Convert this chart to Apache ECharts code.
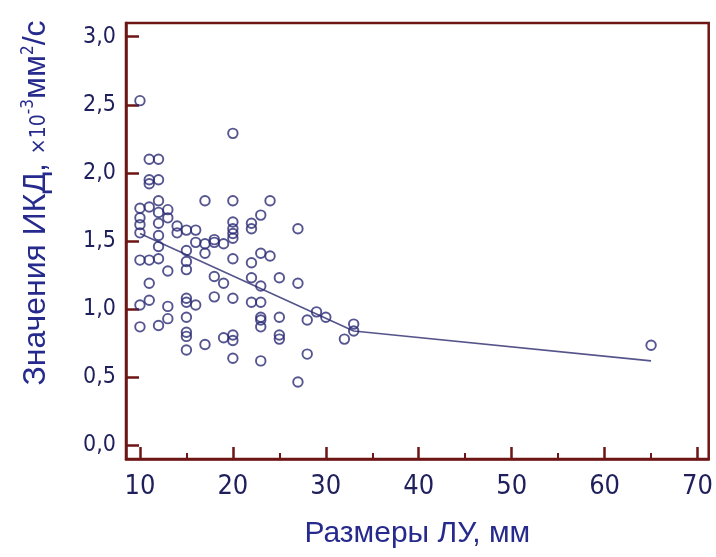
<!DOCTYPE html>
<html>
<head>
<meta charset="utf-8">
<script src="https://cdn.jsdelivr.net/npm/echarts@6/dist/echarts.min.js"></script>
<style>html,body{margin:0;padding:0;background:#fff;}#c{width:716px;height:557px;}</style>
</head>
<body>
<div id="c"></div>
<script>
// Sizes of lymph nodes (mm) and matching IKD values (x10^-3 mm^2/s)
const sizes = [
  10,10,10,10,10,10,10,10,
  11,11,11,11,11,11,11,
  12,12,12,12,12,12,12,12,12,
  13,13,13,13,13,
  14,14,
  15,15,15,15,15,15,15,15,15,15,
  16,16,16,
  17,17,17,17,
  18,18,18,18,
  19,19,19,
  20,20,20,20,20,20,20,20,20,20,20,
  22,22,22,22,22,
  23,23,23,23,23,23,23,23,
  24,24,
  25,25,25,25,
  27,27,27,
  28,28,
  29,
  30,
  32,
  33,33,
  65
];
const ikd = [
  2.53,1.74,1.67,1.62,1.56,1.36,1.03,0.87,
  2.10,1.95,1.92,1.75,1.36,1.19,1.065,
  2.10,1.95,1.795,1.71,1.63,1.54,1.46,1.37,0.88,
  1.73,1.67,1.28,1.02,0.93,
  1.61,1.56,
  1.58,1.43,1.35,1.29,1.08,1.05,0.94,0.83,0.80,0.70,
  1.58,1.49,1.03,
  1.795,1.48,1.41,0.74,
  1.51,1.49,1.24,1.09,
  1.48,1.19,0.79,
  2.29,1.795,1.64,1.59,1.555,1.52,1.37,1.08,0.81,0.77,0.64,
  1.63,1.59,1.34,1.23,1.05,
  1.69,1.41,1.17,1.05,0.94,0.92,0.87,0.62,
  1.795,1.39,
  1.23,0.94,0.81,0.78,
  1.59,1.19,0.465,
  0.92,0.67,
  0.98,
  0.94,
  0.78,
  0.89,0.84,
  0.735
];
// Fitted trend line vertices
const fitX = [10, 33, 65];
const fitY = [1.555, 0.84, 0.62];

// Axis ticks and labels
const xTicks = [10, 20, 30, 40, 50, 60, 70];
const xTickLabels = ['10', '20', '30', '40', '50', '60', '70'];
const xMinorTicks = [15, 25, 35, 45, 55, 65];
const yTicks = [0, 0.5, 1.0, 1.5, 2.0, 2.5, 3.0];
const yTickLabels = ['0,0', '0,5', '1,0', '1,5', '2,0', '2,5', '3,0'];

const xTitle = 'Размеры ЛУ, мм';

const axisRed = '#6e1515';
const labelNavy = '#1f1f5c';
const titleBlue = '#262a8c';
const markNavy = '#2b2b74';
const narrow = '"DejaVu Sans Condensed", "Liberation Sans Narrow", sans-serif';
const sans = '"Liberation Sans", Arial, sans-serif';

const scatterData = sizes.map((s, i) => [s, ikd[i]]);
const fitData = fitX.map((x, i) => [x, fitY[i]]);

const X_MIN = 8.5, X_MAX = 71.2, Y_MIN = -0.1, Y_MAX = 3.1;

function tickAxis(min, max, values, len, width, pos) {
  return {
    type: 'value', min: min, max: max, offset: 0, position: pos,
    axisLine: {show: false, onZero: false},
    axisTick: {show: true, inside: true, length: len, customValues: values, lineStyle: {color: axisRed, width: width}},
    axisLabel: {show: false},
    splitLine: {show: false}
  };
}

const chart = echarts.init(document.getElementById('c'), null, {renderer: 'canvas'});
chart.setOption({
  animation: false,
  backgroundColor: '#ffffff',
  grid: {
    left: 126, right: 3, top: 23, bottom: 98,
    show: true, borderColor: axisRed, borderWidth: 2.5, backgroundColor: 'transparent'
  },
  xAxis: [{
    type: 'value', min: X_MIN, max: X_MAX, position: 'bottom',
    name: xTitle, nameLocation: 'middle', nameGap: 60,
    nameTextStyle: {color: titleBlue, fontSize: 30, fontFamily: sans},
    axisLine: {show: true, onZero: false, lineStyle: {color: axisRed, width: 2.5}},
    axisTick: {show: false},
    axisLabel: {
      show: true, customValues: xTicks, margin: 14,
      color: labelNavy, fontSize: 27, fontFamily: narrow,
      formatter: v => xTickLabels[xTicks.indexOf(Math.round(v))]
    },
    splitLine: {show: false}
  },
  tickAxis(X_MIN, X_MAX, xTicks, 12, 2.5, 'bottom'),
  tickAxis(X_MIN, X_MAX, xMinorTicks, 6, 2, 'bottom')
  ],
  yAxis: [{
    type: 'value', min: Y_MIN, max: Y_MAX, position: 'left',
    axisLine: {show: true, onZero: false, lineStyle: {color: axisRed, width: 2.5}},
    axisTick: {show: false},
    axisLabel: {
      show: true, customValues: yTicks, margin: 10,
      color: labelNavy, fontSize: 23, fontFamily: narrow,
      formatter: v => yTickLabels[yTicks.indexOf(Math.round(v * 10) / 10)]
    },
    splitLine: {show: false}
  },
  tickAxis(Y_MIN, Y_MAX, yTicks, 13, 2.5, 'left')
  ],
  graphic: [{
    type: 'text',
    x: 36, y: 203,
    rotation: Math.PI / 2,
    style: {
      text: '{a|Значения ИКД, }{b|×10}{s|-3}{a|мм}{s|2}{a|/с}',
      align: 'center', verticalAlign: 'middle',
      rich: {
        a: {fontSize: 32, fontFamily: sans, fill: titleBlue, color: titleBlue, verticalAlign: 'bottom'},
        b: {fontSize: 21, fontFamily: narrow, fill: titleBlue, color: titleBlue, verticalAlign: 'bottom', padding: [0, 0, 2, 0]},
        s: {fontSize: 17, fontFamily: narrow, fill: titleBlue, color: titleBlue, verticalAlign: 'top'}
      }
    }
  }],
  series: [{
    type: 'line',
    data: fitData,
    symbol: 'none',
    lineStyle: {color: '#55558c', width: 1.6},
    z: 2
  }, {
    type: 'scatter',
    data: scatterData,
    symbol: 'circle',
    symbolSize: 9.5,
    itemStyle: {color: 'rgba(0,0,0,0)', borderColor: markNavy, borderWidth: 1.9},
    z: 3
  }]
});
</script>
</body>
</html>
